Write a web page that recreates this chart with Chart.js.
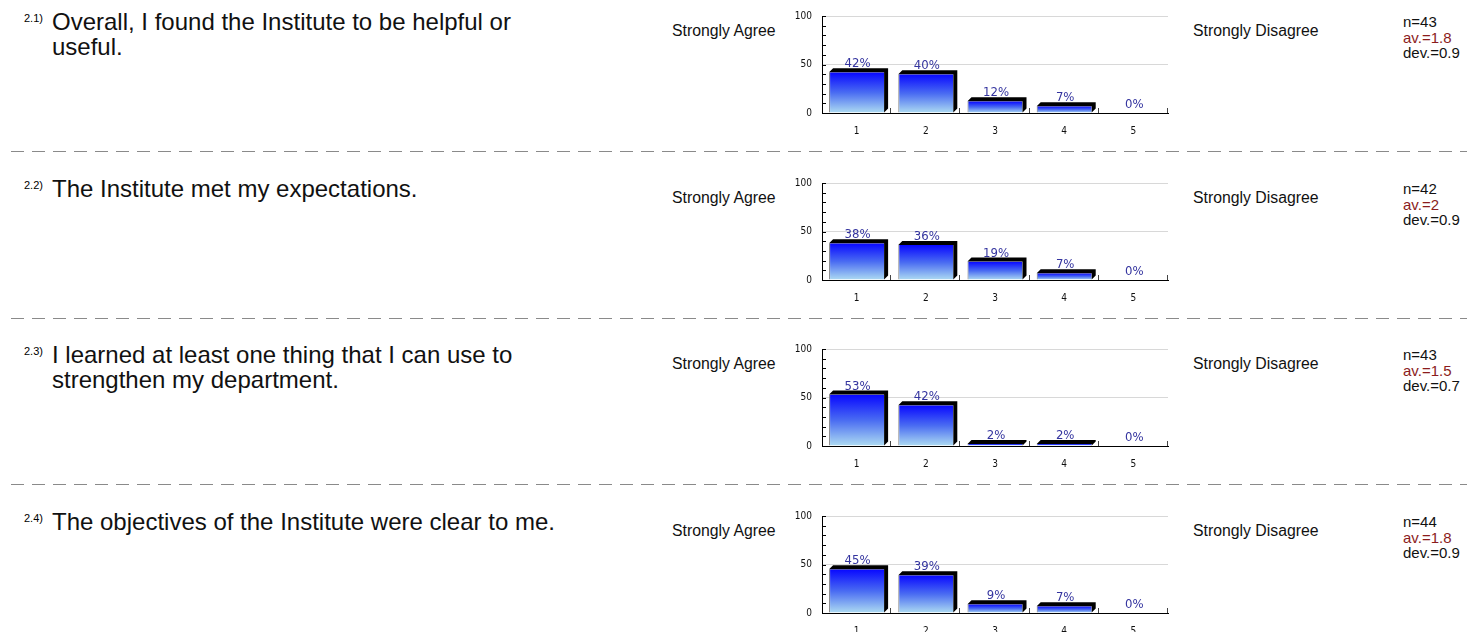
<!DOCTYPE html>
<html>
<head>
<meta charset="utf-8">
<script src="https://cdn.jsdelivr.net/npm/chart.js@4.4.0/dist/chart.umd.min.js"></script>
<style>
  html, body { margin:0; padding:0; background:#fff; }
  body { width:1467px; height:632px; position:relative; overflow:hidden; font-family:"Liberation Sans", Arial, sans-serif; color:#000; }
  .abs { position:absolute; white-space:nowrap; }
  .num { font-size:11px; }
  .q { font-size:24px; line-height:25px; color:#111; }
  .lab { font-size:15.8px; color:#111; }
  .stats { font-size:15px; line-height:15.5px; color:#111; }
  .stats .av { color:#8b1c1c; }
  .dash { position:absolute; left:11px; width:1456px; height:1px;
          background:repeating-linear-gradient(to right, #8a8a8a 0 13px, transparent 13px 21px); }
  canvas { position:absolute; }
</style>
</head>
<body>
<script>
// ---- data ----
const categories = ['1', '2', '3', '4', '5'];
const questionNumbers = ['2.1)', '2.2)', '2.3)', '2.4)'];
const questionTexts = [
  ['Overall, I found the Institute to be helpful or', 'useful.'],
  ['The Institute met my expectations.'],
  ['I learned at least one thing that I can use to', 'strengthen my department.'],
  ['The objectives of the Institute were clear to me.']
];
const q1Values = [42, 40, 12, 7, 0];
const q2Values = [38, 36, 19, 7, 0];
const q3Values = [53, 42, 2, 2, 0];
const q4Values = [45, 39, 9, 7, 0];
const seriesValues = [q1Values, q2Values, q3Values, q4Values];
const nValues = ['43', '42', '43', '44'];
const avValues = ['1.8', '2', '1.5', '1.8'];
const devValues = ['0.9', '0.9', '0.7', '0.9'];
const leftPoleLabel = 'Strongly Agree';
const rightPoleLabel = 'Strongly Disagree';
const yTickValues = [0, 50, 100];

// ---- layout ----
const rowTops = [0, 167, 333, 500];
const dashTops = [151, 318, 484];
const DEPTH = 4;
const SMALL_FONT = '"DejaVu Sans Condensed", "DejaVu Sans", Verdana, sans-serif';

function el(cls, left, top, html) {
  const d = document.createElement('div');
  d.className = 'abs ' + cls;
  d.style.left = left + 'px';
  d.style.top = top + 'px';
  d.innerHTML = html;
  document.body.appendChild(d);
  return d;
}

dashTops.forEach(t => {
  const d = document.createElement('div');
  d.className = 'dash';
  d.style.top = t + 'px';
  document.body.appendChild(d);
});

const bar3d = {
  id: 'bar3d',
  afterDatasetsDraw(chart) {
    const ctx = chart.ctx;
    const meta = chart.getDatasetMeta(0);
    const vals = chart.data.datasets[0].data;
    ctx.save();
    meta.data.forEach((b, i) => {
      const v = vals[i];
      const x0 = b.x - b.width / 2, x1 = b.x + b.width / 2;
      const top = b.y, base = b.base;
      if (v > 0) {
        ctx.fillStyle = '#000';
        ctx.beginPath();
        ctx.moveTo(x0, top);
        ctx.lineTo(x0 + DEPTH, top - DEPTH);
        ctx.lineTo(x1 + DEPTH, top - DEPTH);
        ctx.lineTo(x1 + DEPTH, base - DEPTH);
        ctx.lineTo(x1, base);
        ctx.lineTo(x1, top);
        ctx.closePath();
        ctx.fill();
      }
      ctx.fillStyle = '#34349f';
      ctx.font = '13px ' + SMALL_FONT;
      ctx.textAlign = 'center';
      ctx.textBaseline = 'alphabetic';
      ctx.fillText(v + '%', b.x + 1, (v > 0 ? top : base) - DEPTH - 1);
    });
    ctx.restore();
  },
  afterDraw(chart) {
    const ctx = chart.ctx;
    const ys = chart.scales.y, xs = chart.scales.x;
    const area = chart.chartArea;
    ctx.save();
    ctx.strokeStyle = '#000';
    ctx.lineWidth = 1;
    for (let v = 10; v <= 100; v += 10) {
      const y = Math.round(ys.getPixelForValue(v)) + 0.5;
      ctx.beginPath();
      ctx.moveTo(area.left, y);
      ctx.lineTo(area.left + 4, y);
      ctx.stroke();
    }
    ctx.strokeStyle = '#444';
    const n = categories.length;
    const bounds = [];
    for (let i = 0; i < n - 1; i++) bounds.push((xs.getPixelForValue(i) + xs.getPixelForValue(i + 1)) / 2);
    bounds.push(area.right);
    bounds.forEach(bx => {
      const x = Math.round(bx) - 0.5;
      ctx.beginPath();
      ctx.moveTo(x, area.bottom);
      ctx.lineTo(x, area.bottom - 5);
      ctx.stroke();
    });
    ctx.restore();
  }
};

rowTops.forEach((rt, r) => {
  el('num', 24, rt + 12, questionNumbers[r]);
  el('q', 52, rt + 9, questionTexts[r].join('<br>'));
  el('lab', 672, rt + 22, leftPoleLabel);
  el('lab', 1193, rt + 22, rightPoleLabel);
  el('stats', 1403, rt + 14,
     'n=' + nValues[r] + '<br><span class="av">av.=' + avValues[r] + '</span><br>dev.=' + devValues[r]);

  const c = document.createElement('canvas');
  c.width = 400; c.height = 140;
  c.style.left = '780px';
  c.style.top = rt + 'px';
  c.style.width = '400px'; c.style.height = '140px';
  document.body.appendChild(c);

  new Chart(c.getContext('2d'), {
    type: 'bar',
    data: {
      labels: categories,
      datasets: [{
        data: seriesValues[r],
        barPercentage: 0.795,
        categoryPercentage: 1,
        borderWidth: { left: 1, top: 0, right: 0, bottom: 0 },
        borderColor: '#777',
        backgroundColor: (ctx) => {
          const chart = ctx.chart;
          if (!chart.chartArea || ctx.raw === undefined) return '#3050ff';
          const ys = chart.scales.y;
          const top = ys.getPixelForValue(ctx.raw);
          const bottom = ys.getPixelForValue(0);
          if (!(bottom > top)) return '#3050ff';
          const g = chart.ctx.createLinearGradient(0, top, 0, bottom);
          g.addColorStop(0, '#0808ff');
          g.addColorStop(0.5, '#4a6cf2');
          g.addColorStop(1, '#aedcf2');
          return g;
        }
      }]
    },
    options: {
      responsive: false,
      animation: false,
      devicePixelRatio: 1,
      events: [],
      layout: { padding: { top: 13, right: 12, left: 0, bottom: 0 } },
      plugins: { legend: { display: false }, tooltip: { enabled: false } },
      scales: {
        x: {
          grid: { display: false },
          border: { display: true, color: '#000', width: 1 },
          ticks: { color: '#111', font: { family: SMALL_FONT, size: 10 }, padding: 4, maxRotation: 0 },
          afterFit: (s) => { s.height = 27; }
        },
        y: {
          min: 0, max: 100,
          afterBuildTicks: (s) => { s.ticks = yTickValues.map(v => ({ value: v })); },
          grid: { color: (ctx) => ctx.tick && ctx.tick.value === 0 ? 'rgba(0,0,0,0)' : '#d8d8d8', drawTicks: false },
          border: { display: true, color: '#000', width: 1 },
          ticks: { color: '#111', font: { family: SMALL_FONT, size: 10 }, padding: 10 },
          afterFit: (s) => { s.width = 42; }
        }
      }
    },
    plugins: [bar3d]
  });
});
</script>
</body>
</html>
